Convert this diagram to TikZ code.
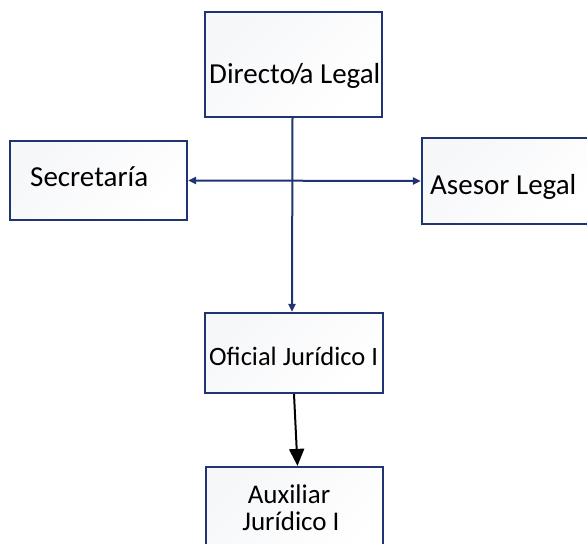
\documentclass[tikz,border=0pt]{standalone}
\usepackage{fontspec}
\setmainfont{Carlito}
\usetikzlibrary{arrows.meta,positioning}
\definecolor{navy}{HTML}{1F3470}
\definecolor{boxtop}{HTML}{F6F7F9}
\tikzset{
  orgbox/.style={draw=navy, line width=2.2pt, top color=boxtop, bottom color=white,
    shading angle=45, inner sep=0pt, minimum width=#1},
  orgbox/.default=177pt,
  boxtext/.style={inner sep=0pt, font=\fontsize{29}{34}\selectfont, text=black},
  smalltext/.style={boxtext, font=\fontsize{27}{32}\selectfont},
  link/.style={draw=navy, line width=2pt},
}
\begin{document}
\begin{tikzpicture}[x=1pt,y=-1pt]
  \useasboundingbox (0,0) rectangle (587,544);
  \begin{scope}
    \clip (0,0) rectangle (587,544);
    % boxes
    \node[orgbox, minimum height=105pt] (dir) at (293.5,64.5) {};
    \node[orgbox, minimum height=79pt] (sec) at (98.5,180.5) {};
    \node[orgbox=178pt, minimum height=86pt] (ase) at (511,181) {};
    \node[orgbox=178pt, minimum height=80pt] (ofi) at (294,353) {};
    \node[orgbox, minimum height=93pt] (aux) at (294.5,513.5) {};
    % labels
    \node[boxtext, anchor=base west] (tdir) at (209,83) {Directo\kern-0.1em/\kern-0.12em a Legal};
    \node[boxtext, anchor=base west] (tsec) at (30,186) {Secretaría};
    \node[boxtext, anchor=base west] (tase) at (430,194) {Asesor Legal};
    \node[boxtext, anchor=base west, font=\fontsize{26.5}{32}\selectfont] (tofi) at (209,365) {Oficial Jurídico I};
    \node[smalltext, anchor=base] (taux1) at (289,503) {Auxiliar};
    \node[smalltext, anchor=base] (taux2) at (291,530) {Jurídico I};
  \end{scope}
  % connectors
  \draw[link, -{Triangle[length=8pt,width=7pt]}] ([xshift=-1pt]dir.south) -- ([xshift=-2pt]ofi.north);
  \draw[link, {Triangle[length=8pt,width=7pt]}-{Triangle[length=8pt,width=7pt]}] (sec.east) -- (ase.west);
  \draw[line width=2pt, black, -{Triangle[length=17pt,width=15pt]}] (ofi.south) -- ([xshift=3pt]aux.north);
\end{tikzpicture}
\end{document}
